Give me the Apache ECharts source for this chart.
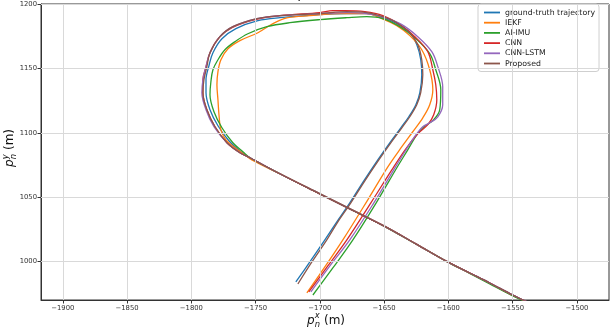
<!DOCTYPE html>
<html>
<head>
<meta charset="utf-8">
<script src="https://cdn.jsdelivr.net/npm/echarts@6/dist/echarts.min.js"></script>
<style>
  html, body { margin: 0; padding: 0; background: #fff; }
  #chart { width: 615px; height: 330px; }
</style>
</head>
<body>
<div id="chart"></div>
<script>
// Estimated vehicle positions (metres) for each method, east (x) vs north (y)
const seriesNames = ['ground-truth trajectory', 'IEKF', 'AI-IMU', 'CNN', 'CNN-LSTM', 'Proposed'];
const seriesColors = ['#1f77b4', '#ff7f0e', '#2ca02c', '#d62728', '#9467bd', '#8c564b'];

const xTicks = [-1900, -1850, -1800, -1750, -1700, -1650, -1600, -1550, -1500];
const yTicks = [1000, 1050, 1100, 1150, 1200];

const groundTruth = [
  [-1536.7, 967.2], [-1549.9, 973.4], [-1567.8, 982.8], [-1583.4, 990.6], [-1600.5, 999.2],
  [-1625.3, 1013.3], [-1650.2, 1027.3], [-1675.1, 1039.8], [-1700.0, 1052.3], [-1731.1, 1068.0],
  [-1754.4, 1080.5], [-1761.4, 1085.2], [-1770.8, 1093.8], [-1779.3, 1105.5], [-1785.5, 1118.0],
  [-1788.6, 1131.3], [-1788.6, 1141.4], [-1786.3, 1152.3], [-1783.2, 1162.5], [-1776.2, 1173.4],
  [-1765.3, 1181.3], [-1748.2, 1187.5], [-1731.1, 1189.8], [-1700.0, 1192.2], [-1679.0, 1193.0],
  [-1663.5, 1193.0], [-1651.0, 1189.8], [-1640.1, 1185.2], [-1630.0, 1178.1], [-1624.6, 1168.8],
  [-1621.5, 1157.0], [-1620.7, 1145.3], [-1622.2, 1131.3], [-1625.3, 1121.9], [-1630.8, 1112.5],
  [-1637.0, 1103.9], [-1645.6, 1092.2], [-1654.9, 1078.9], [-1665.8, 1062.5], [-1676.7, 1045.3],
  [-1686.8, 1030.5], [-1696.1, 1016.4], [-1707.8, 999.2], [-1718.7, 983.6]
];

const iekf = [
  [-1536.7, 967.0], [-1549.9, 973.0], [-1567.8, 982.6], [-1583.4, 990.5], [-1600.5, 999.2],
  [-1625.3, 1013.3], [-1650.2, 1027.3], [-1675.1, 1039.8], [-1700.0, 1052.3], [-1731.1, 1068.0],
  [-1752.9, 1078.9], [-1758.3, 1082.8], [-1766.1, 1088.3], [-1773.1, 1094.5], [-1777.0, 1102.3],
  [-1778.5, 1114.1], [-1779.3, 1125.8], [-1780.1, 1137.5], [-1779.3, 1147.7], [-1777.0, 1157.0],
  [-1771.5, 1165.6], [-1762.2, 1171.9], [-1748.2, 1178.1], [-1736.5, 1185.2], [-1724.9, 1189.8],
  [-1707.8, 1191.4], [-1684.4, 1193.0], [-1663.5, 1193.0], [-1651.8, 1189.1], [-1640.1, 1183.6],
  [-1630.0, 1175.8], [-1620.7, 1164.8], [-1614.5, 1149.2], [-1612.1, 1133.6], [-1614.5, 1121.9],
  [-1619.9, 1111.7], [-1627.7, 1100.8], [-1636.2, 1089.1], [-1647.1, 1073.4], [-1662.7, 1047.7],
  [-1682.1, 1016.4], [-1696.1, 995.3], [-1710.1, 975.0]
];

const aiImu = [
  [-1536.7, 966.8], [-1549.9, 972.7], [-1567.8, 982.0], [-1583.4, 990.3], [-1600.5, 999.1],
  [-1625.3, 1013.2], [-1650.2, 1027.2], [-1675.1, 1039.8], [-1700.0, 1052.3], [-1731.1, 1068.0],
  [-1754.4, 1080.5], [-1759.9, 1085.2], [-1767.7, 1092.2], [-1776.2, 1103.9], [-1782.4, 1116.4],
  [-1785.5, 1129.7], [-1784.8, 1139.8], [-1783.2, 1149.2], [-1779.3, 1157.0], [-1773.9, 1164.8],
  [-1766.1, 1171.1], [-1756.0, 1177.3], [-1741.2, 1182.8], [-1723.3, 1185.9], [-1700.0, 1188.3],
  [-1679.0, 1189.8], [-1663.5, 1190.6], [-1651.0, 1189.1], [-1637.8, 1182.8], [-1626.1, 1174.2],
  [-1614.5, 1161.7], [-1609.8, 1149.2], [-1605.9, 1133.6], [-1606.7, 1118.0], [-1611.4, 1110.2],
  [-1619.9, 1103.9], [-1624.6, 1098.4], [-1631.6, 1086.7], [-1640.1, 1072.7], [-1655.7, 1046.1],
  [-1674.3, 1016.4], [-1689.9, 994.5], [-1705.4, 973.4]
];

const cnn = [
  [-1536.7, 967.2], [-1549.9, 973.4], [-1567.8, 982.8], [-1583.4, 990.6], [-1600.5, 999.2],
  [-1625.3, 1013.3], [-1650.2, 1027.3], [-1675.1, 1039.8], [-1700.0, 1052.3], [-1731.1, 1068.0],
  [-1754.4, 1080.5], [-1762.2, 1084.4], [-1772.3, 1092.2], [-1781.6, 1104.7], [-1787.9, 1118.0],
  [-1791.0, 1131.3], [-1791.0, 1141.4], [-1788.6, 1151.6], [-1785.5, 1162.5], [-1778.5, 1174.2],
  [-1768.4, 1182.0], [-1750.5, 1188.3], [-1731.1, 1191.4], [-1700.0, 1193.8], [-1689.9, 1195.3],
  [-1680.6, 1195.3], [-1665.0, 1194.5], [-1651.0, 1191.4], [-1637.8, 1184.4], [-1626.1, 1175.0],
  [-1616.0, 1163.3], [-1612.1, 1149.2], [-1609.8, 1137.5], [-1609.0, 1125.8], [-1611.4, 1114.1],
  [-1616.0, 1106.3], [-1623.8, 1099.2], [-1633.1, 1087.5], [-1644.0, 1071.1], [-1660.3, 1045.3],
  [-1679.0, 1016.4], [-1693.8, 996.1], [-1708.6, 975.8]
];

const cnnLstm = [
  [-1536.7, 967.2], [-1549.9, 973.4], [-1567.8, 982.8], [-1583.4, 990.6], [-1600.5, 999.2],
  [-1625.3, 1013.3], [-1650.2, 1027.3], [-1675.1, 1039.8], [-1700.0, 1052.3], [-1731.1, 1068.0],
  [-1754.4, 1080.5], [-1762.2, 1084.4], [-1772.3, 1092.2], [-1782.4, 1104.7], [-1788.6, 1118.0],
  [-1791.8, 1131.3], [-1791.0, 1141.4], [-1788.6, 1151.6], [-1785.5, 1162.5], [-1777.8, 1175.0],
  [-1767.7, 1182.8], [-1749.0, 1189.1], [-1731.1, 1191.4], [-1700.0, 1193.0], [-1679.0, 1193.8],
  [-1663.5, 1193.0], [-1649.5, 1189.8], [-1636.2, 1184.4], [-1623.8, 1175.0], [-1612.9, 1163.3],
  [-1608.2, 1151.6], [-1604.4, 1135.9], [-1604.4, 1121.9], [-1608.2, 1112.5], [-1614.5, 1107.8],
  [-1619.9, 1104.7], [-1626.9, 1096.1], [-1633.9, 1085.2], [-1642.5, 1071.1], [-1658.0, 1045.3],
  [-1676.7, 1016.4], [-1692.2, 996.1], [-1707.0, 975.8]
];

const proposed = [
  [-1536.7, 967.2], [-1549.9, 973.4], [-1567.8, 982.8], [-1583.4, 990.6], [-1600.5, 999.2],
  [-1625.3, 1013.3], [-1650.2, 1027.3], [-1675.1, 1039.8], [-1700.0, 1052.3], [-1731.1, 1068.0],
  [-1754.4, 1080.5], [-1762.2, 1084.4], [-1772.3, 1092.2], [-1781.6, 1104.7], [-1787.9, 1118.0],
  [-1791.0, 1131.3], [-1790.2, 1141.4], [-1787.9, 1151.6], [-1785.5, 1162.5], [-1777.8, 1175.0],
  [-1767.7, 1182.8], [-1749.0, 1189.1], [-1731.1, 1191.4], [-1700.0, 1193.0], [-1679.0, 1194.5],
  [-1663.5, 1193.8], [-1651.0, 1190.6], [-1640.1, 1185.9], [-1630.0, 1178.1], [-1623.8, 1168.8],
  [-1620.7, 1157.0], [-1619.9, 1145.3], [-1621.5, 1131.3], [-1624.6, 1121.9], [-1630.0, 1112.5],
  [-1636.2, 1103.9], [-1644.8, 1092.2], [-1654.1, 1078.9], [-1665.0, 1062.5], [-1675.9, 1045.3],
  [-1686.0, 1030.5], [-1694.6, 1016.4], [-1706.2, 999.2], [-1717.1, 982.0]
];

const trajectories = [groundTruth, iekf, aiImu, cnn, cnnLstm, proposed];

const FONT = 'DejaVu Sans';
const chart = echarts.init(document.getElementById('chart'), null, { renderer: 'canvas' });

const minusSign = v => String(v).replace('-', '\u2212');
const plainNumber = v => String(v);

// builds an axis title like p_n^x (m) with stacked sub/superscript
function axisTitle(sup) {
  const big = 12, small = 8.4;
  return [
    { type: 'text', x: -19, y: 0, style: { text: 'p', font: 'italic ' + big + 'px "' + FONT + '"', fill: '#111', verticalAlign: 'middle', align: 'left' } },
    { type: 'text', x: -11.2, y: -4.2, style: { text: sup, font: 'italic ' + small + 'px "' + FONT + '"', fill: '#111', verticalAlign: 'middle', align: 'left' } },
    { type: 'text', x: -11.2, y: 4.2, style: { text: 'n', font: 'italic ' + small + 'px "' + FONT + '"', fill: '#111', verticalAlign: 'middle', align: 'left' } },
    { type: 'text', x: -2, y: 0, style: { text: '(m)', font: big + 'px "' + FONT + '"', fill: '#111', verticalAlign: 'middle', align: 'left' } }
  ];
}

const series = trajectories.map((data, i) => ({
  name: seriesNames[i],
  type: 'line',
  data: data,
  showSymbol: false,
  smooth: 0.35,
  clip: true,
  z: 3,
  lineStyle: { width: 1.3, color: seriesColors[i] },
  itemStyle: { color: seriesColors[i] },
  emphasis: { disabled: true }
}));

// grid lines drawn under the trajectories
series.unshift({
  name: 'grid',
  type: 'line',
  data: [],
  z: 1,
  silent: true,
  markLine: {
    silent: true,
    symbol: 'none',
    label: { show: false },
    lineStyle: { color: '#d9d9d9', width: 1, type: 'solid' },
    emphasis: { disabled: true },
    data: xTicks.map(v => ({ xAxis: v })).concat(yTicks.map(v => ({ yAxis: v })))
  }
});

chart.setOption({
  animation: false,
  backgroundColor: '#fff',
  color: seriesColors,
  textStyle: { fontFamily: FONT },
  grid: { left: 41, right: 6, top: 4, bottom: 30, show: true, borderColor: '#333', borderWidth: 1, backgroundColor: 'transparent' },
  xAxis: {
    type: 'value',
    min: -1917,
    max: -1475,
    axisLine: { show: true, lineStyle: { color: '#333', width: 1 } },
    axisTick: { show: true, length: 3.5, customValues: xTicks, lineStyle: { color: '#333' } },
    axisLabel: { customValues: xTicks, fontSize: 6.8, color: '#333', margin: 5, formatter: minusSign, fontFamily: FONT },
    splitLine: { show: false }
  },
  yAxis: {
    type: 'value',
    min: 969.5,
    max: 1200.5,
    axisLine: { show: true, lineStyle: { color: '#333', width: 1 } },
    axisTick: { show: true, length: 3.5, customValues: yTicks, lineStyle: { color: '#333' } },
    axisLabel: { customValues: yTicks, fontSize: 6.8, color: '#333', margin: 4, formatter: plainNumber, fontFamily: FONT },
    splitLine: { show: false }
  },
  legend: {
    data: seriesNames,
    orient: 'vertical',
    left: 478,
    top: 4,
    padding: [3.5, 4, 3, 6],
    itemGap: 0.2,
    itemWidth: 16,
    itemHeight: 1.8,
    icon: 'rect',
    backgroundColor: '#fff',
    borderColor: '#cfcfcf',
    borderWidth: 1,
    borderRadius: 3,
    selectedMode: false,
    textStyle: { fontSize: 7.8, lineHeight: 10, color: '#222', fontFamily: FONT }
  },
  graphic: [
    { type: 'group', x: 326, y: 320.4, children: axisTitle('x') },
    { type: 'group', x: 10, y: 148, rotation: Math.PI / 2, children: axisTitle('y') },
    { type: 'text', x: 325, y: -5.5, style: { text: 'position', font: '14px "' + FONT + '"', fill: '#222', align: 'center', verticalAlign: 'middle' } }
  ],
  series: series
});
</script>
</body>
</html>
